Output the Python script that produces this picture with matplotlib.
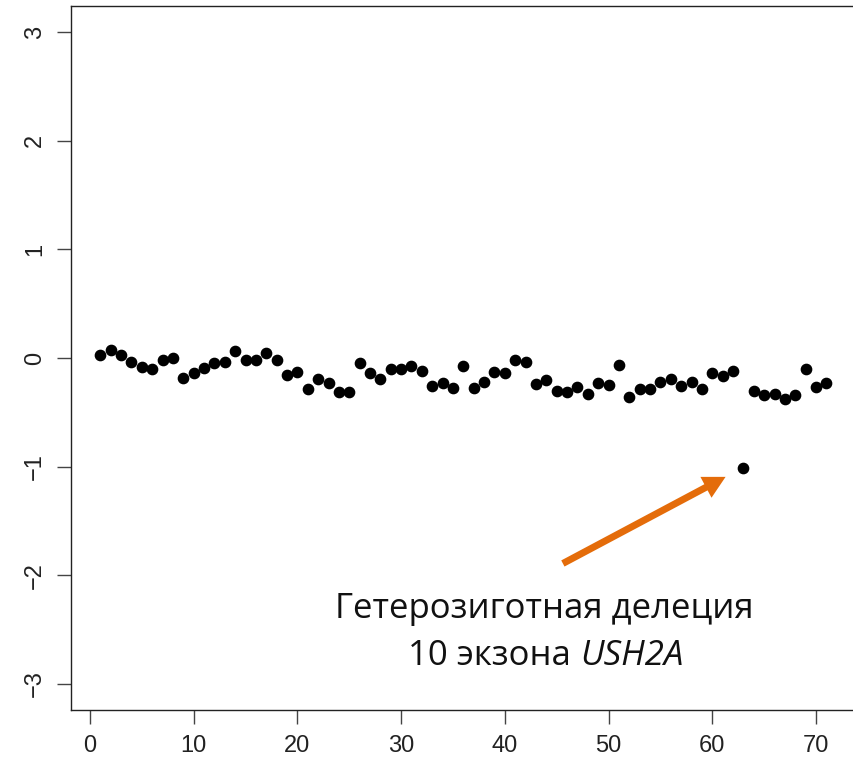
import numpy as np
import matplotlib.pyplot as plt
from matplotlib.patches import FancyArrowPatch

# exon index and log-ratio values
exons = np.arange(1, 72)
ratios = [0.03, 0.07, 0.03, -0.04, -0.08, -0.10, -0.02, 0.00, -0.18, -0.14,
          -0.09, -0.05, -0.04, 0.06, -0.02, -0.02, 0.05, -0.02, -0.16, -0.13,
          -0.29, -0.19, -0.23, -0.31, -0.31, -0.05, -0.14, -0.19, -0.10, -0.10,
          -0.07, -0.12, -0.26, -0.23, -0.28, -0.07, -0.28, -0.22, -0.13, -0.14,
          -0.02, -0.04, -0.24, -0.20, -0.30, -0.31, -0.27, -0.33, -0.23, -0.25,
          -0.06, -0.36, -0.29, -0.29, -0.22, -0.19, -0.26, -0.22, -0.29, -0.14,
          -0.17, -0.12, -1.01, -0.30, -0.34, -0.33, -0.38, -0.34, -0.10, -0.27,
          -0.23]
xticks = [0, 10, 20, 30, 40, 50, 60, 70]
yticks = [-3, -2, -1, 0, 1, 2, 3]

label_line1 = "Гетерозиготная делеция"
label_line2a = "10 экзона "
label_line2b = "USH2A"

fig = plt.figure(figsize=(8.54, 7.65), dpi=100)
ax = fig.add_axes([71.3 / 854, 55.3 / 765, 784.1 / 854, 703.4 / 765])

ax.plot(exons, ratios, 'o', color='black', ms=7.4, mec='black')
ax.set_xlim(-1.8, 73.8)
ax.set_ylim(-3.24, 3.24)

ax.set_xticks(xticks)
ax.set_yticks(yticks)
ax.set_yticklabels([str(t).replace('-', '\u2212') for t in yticks],
                   rotation=90, va='center')
ax.set_xticklabels([str(t) for t in xticks])
ax.tick_params(direction='out', length=10, width=1.0, color='#444',
               labelsize=17, labelcolor='#222', pad=8,
               labelfontfamily='Liberation Sans')
for s in ax.spines.values():
    s.set_color('#222')
    s.set_linewidth(1.0)

arrow = FancyArrowPatch((45.36, -1.905), (61.52, -1.083),
                        arrowstyle='simple,head_length=1.6,head_width=1.7,tail_width=0.5',
                        mutation_scale=10, color='#E46C0A', lw=0)
ax.add_patch(arrow)

tfont = 'Open Sans'
fs = 25
ax.text(43.8, -2.31, label_line1, ha='center', va='center', fontsize=fs,
        family=tfont, color='#111')

# second line: normal part + italic gene name, centred together
fig.canvas.draw()
r = fig.canvas.get_renderer()
ta = ax.text(0, 0, label_line2a, fontsize=fs, family=tfont, color='#111',
             va='center', ha='left')
tb = ax.text(0, 0, label_line2b, fontsize=fs, family=tfont, style='italic',
             color='#111', va='center', ha='left')
wa = ta.get_window_extent(r).width
wb = tb.get_window_extent(r).width
cx, cy = ax.transData.transform((43.95, -2.745))
x0 = cx - (wa + wb) / 2
inv = ax.transData.inverted()
ta.set_position(inv.transform((x0, cy)))
tb.set_position(inv.transform((x0 + wa, cy)))

fig.savefig('out.png', dpi=100)
